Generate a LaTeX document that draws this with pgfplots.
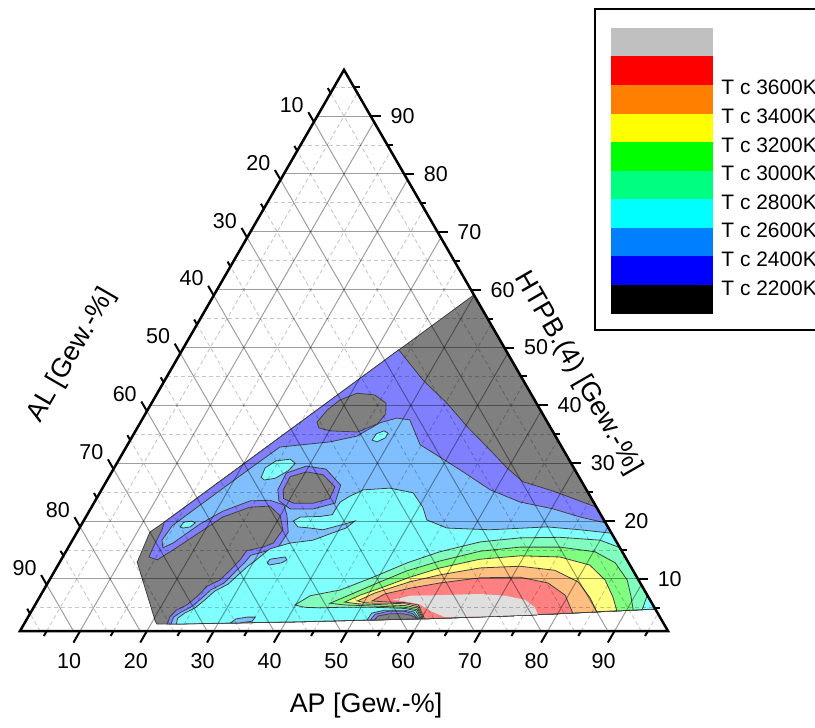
\documentclass[border=0pt]{standalone}
\usepackage{fontspec}
\setmainfont{Liberation Sans}
\usepackage{pgfplots}
\pgfplotsset{compat=1.18}

\definecolor{cBlue}{RGB}{0,0,255}
\definecolor{cAzure}{RGB}{0,128,255}
\definecolor{cCyan}{RGB}{0,255,255}
\definecolor{cSpring}{RGB}{0,255,128}
\definecolor{cGreen}{RGB}{0,255,0}
\definecolor{cYellow}{RGB}{255,255,0}
\definecolor{cOrange}{RGB}{255,128,0}
\definecolor{cRed}{RGB}{255,0,0}
\definecolor{cGray}{RGB}{192,192,192}

% AP and HTPB in Gew.-%, each component runs from 1 to 98 on the triangle
\pgfplotsset{
  table/tern/.style={row sep=\\,
    x expr=\thisrow{AP}+0.5*\thisrow{HT}-1.5,
    y expr=0.8660254*(\thisrow{HT}-1)},
  lev/.style={draw=black!75, line width=0.4bp, fill=#1!50},
}
\tikzset{
  gmaj/.style={draw=black, draw opacity=0.38, line width=0.5bp},
  gmin/.style={draw=black, draw opacity=0.22, line width=0.45bp, dash pattern=on 2bp off 1.5bp},
  tk/.style={line width=1bp},
  tl/.style={font=\fontsize{10.8}{12}\selectfont, inner sep=0pt},
  al/.style={font=\fontsize{13.5}{15}\selectfont, inner sep=0pt},
  lg/.style={font=\fontsize{10.5}{12}\selectfont, inner sep=0pt, anchor=west},
}

\begin{document}
\begin{tikzpicture}
\begin{axis}[name=ax, hide axis, clip=false, no markers,
  x=3.34bp, y=3.34bp,
  xmin=-2.994, xmax=119.01, ymin=-14.371, ymax=94.461]

% T < 2200 K (whole data region)
\addplot[lev=black] table[tern]{AP HT\\ 39.9 59.1\\ 94.2 4.8\\ 74.5 3.7\\ 58.8 3.1\\ 42.1 2.6\\ 20.9 2.2\\ 20.4 2.7\\ 12.6 12.9\\ 11.9 18.1\\ 13.1 19.7\\} -- cycle;
% T > 2200 K
\addplot[lev=cBlue] table[tern]{AP HT\\ 33.4 49.6\\ 39.6 44.4\\ 45.2 40.4\\ 50.3 36.3\\ 55.7 32.3\\ 59.8 29.2\\ 63.4 26.8\\ 68.7 25.2\\ 76.6 22.4\\ 94.2 4.8\\ 74.5 3.7\\ 58.8 3.1\\ 42.1 2.6\\ 22.4 2.2\\ 22.2 3.5\\ 22.6 4.6\\ 23.7 5.5\\ 24.5 6.9\\ 25.1 8.7\\ 26.5 9.8\\ 27.2 11.5\\ 27.8 13.3\\ 28.0 14.9\\ 30.1 15.5\\ 31.3 16.2\\ 31.6 18.5\\ 30.0 20.9\\ 27.6 22.6\\ 24.7 22.4\\ 21.5 20.7\\ 16.9 15.0\\ 15.4 13.3\\ 13.9 13.8\\ 13.7 15.6\\ 13.5 18.5\\ 13.2 19.8\\} -- cycle;
\addplot[lev=black] table[tern]{AP HT\\ 27.4 37.1\\ 27.9 39.2\\ 28.9 40.9\\ 30.9 42.1\\ 33.7 41.8\\ 36.1 40.4\\ 37.0 38.5\\ 36.6 36.8\\ 34.3 35.4\\ 30.1 35.6\\ 28.2 36.1\\} -- cycle;
% T > 2400 K
\addplot[lev=cAzure] table[tern]{AP HT\\ 14.4 16.7\\ 14.7 19.2\\ 17.1 22.8\\ 20.5 27.8\\ 24.0 32.8\\ 31.1 33.7\\ 34.6 34.7\\ 36.9 37.0\\ 39.0 37.8\\ 41.1 37.5\\ 42.9 35.4\\ 44.8 33.2\\ 48.2 31.4\\ 53.6 28.5\\ 59.2 25.4\\ 64.7 23.3\\ 70.3 22.1\\ 75.0 20.7\\ 79.3 19.7\\ 94.2 4.8\\ 74.5 3.7\\ 58.8 3.1\\ 42.1 2.6\\ 23.0 2.2\\ 22.8 3.4\\ 23.5 4.3\\ 24.5 5.1\\ 25.3 6.5\\ 26.0 8.1\\ 27.4 9.3\\ 28.0 11.0\\ 28.7 12.8\\ 29.0 14.1\\ 30.9 14.8\\ 32.4 15.5\\ 32.6 18.1\\ 30.9 21.1\\ 29.6 22.8\\ 27.1 23.6\\ 24.2 23.5\\ 21.0 21.7\\ 18.7 19.5\\ 16.3 16.2\\ 15.2 15.4\\} -- cycle;
\addplot[lev=cBlue] table[tern]{AP HT\\ 27.4 25.4\\ 27.2 28.3\\ 29.6 29.5\\ 32.8 29.0\\ 36.4 26.2\\ 37.1 23.1\\ 34.3 22.1\\ 30.9 22.1\\ 28.5 23.5\\} -- cycle;
\addplot[lev=black] table[tern]{AP HT\\ 28.2 25.4\\ 28.1 27.7\\ 30.2 28.5\\ 32.9 28.0\\ 35.7 25.9\\ 35.9 23.9\\ 33.9 23.1\\ 30.9 23.1\\ 29.0 23.9\\} -- cycle;
% T > 2600 K
\addplot[lev=cCyan] table[tern]{AP HT\\ 16.0 19.0\\ 16.1 19.8\\ 17.2 20.0\\ 17.9 19.7\\ 17.5 19.0\\ 16.5 18.8\\} -- cycle;
\addplot[lev=cCyan] table[tern]{AP HT\\ 23.8 27.6\\ 23.6 29.2\\ 24.6 30.4\\ 26.6 30.7\\ 27.7 30.0\\ 27.3 28.7\\ 26.0 27.4\\ 24.5 27.1\\} -- cycle;
\addplot[lev=cCyan] table[tern]{AP HT\\ 37.2 34.0\\ 37.3 35.1\\ 38.2 35.6\\ 39.0 35.2\\ 39.0 34.4\\ 38.1 33.7\\} -- cycle;
\addplot[lev=cCyan] table[tern]{AP HT\\ 23.8 2.2\\ 23.5 3.2\\ 24.1 4.1\\ 25.2 5.0\\ 26.0 6.4\\ 26.7 7.9\\ 28.1 9.1\\ 28.8 10.7\\ 29.5 12.2\\ 30.1 13.1\\ 31.3 15.2\\ 33.8 16.2\\ 37.0 16.7\\ 39.0 17.8\\ 40.9 18.8\\ 41.6 20.0\\ 40.1 19.4\\ 37.6 18.5\\ 35.5 18.8\\ 33.6 19.0\\ 32.4 20.0\\ 33.1 20.7\\ 36.0 20.8\\ 37.7 21.1\\ 37.7 22.3\\ 37.8 23.3\\ 38.7 24.3\\ 40.2 25.4\\ 44.0 25.7\\ 47.9 24.9\\ 50.6 22.4\\ 52.3 20.2\\ 56.0 18.8\\ 62.6 18.5\\ 70.9 19.0\\ 76.1 18.5\\ 81.1 17.9\\ 94.2 4.8\\ 74.5 3.7\\ 58.8 3.1\\ 42.1 2.6\\} -- cycle;
\addplot[lev=cAzure] table[tern]{AP HT\\ 32.1 12.8\\ 32.2 13.4\\ 34.3 13.8\\ 34.8 13.3\\ 34.3 12.8\\ 32.6 12.4\\} -- cycle;
\addplot[lev=cAzure] table[tern]{AP HT\\ 31.8 2.4\\ 32.3 3.1\\ 33.8 3.4\\ 35.0 3.4\\ 34.9 2.7\\ 33.2 2.4\\} -- cycle;
% cold pocket at the lower edge
\addplot[lev=cAzure] table[tern]{AP HT\\ 52.0 2.9\\ 52.1 4.1\\ 53.8 4.6\\ 56.8 4.6\\ 58.3 4.3\\ 59.7 3.1\\} -- cycle;
\addplot[lev=cBlue] table[tern]{AP HT\\ 52.5 2.9\\ 52.7 3.9\\ 54.4 4.4\\ 56.9 4.4\\ 58.3 4.0\\ 59.5 3.1\\} -- cycle;
\addplot[lev=black] table[tern]{AP HT\\ 53.1 2.9\\ 53.3 3.6\\ 54.9 4.0\\ 56.8 4.0\\ 58.2 3.7\\ 59.4 3.1\\} -- cycle;
% T > 2800 ... 3600 K
\addplot[lev=cSpring] table[tern]{AP HT\\ 39.9 5.5\\ 41.4 7.1\\ 45.4 8.1\\ 49.2 10.3\\ 53.1 12.8\\ 57.0 14.7\\ 62.2 16.4\\ 67.8 17.1\\ 73.7 17.2\\ 80.0 16.7\\ 83.6 15.4\\ 91.8 7.2\\ 92.3 4.7\\ 74.5 3.7\\ 59.9 3.1\\ 58.5 4.5\\ 56.7 4.9\\ 54.4 5.0\\ 52.1 5.1\\ 49.9 5.1\\ 46.9 5.1\\ 43.9 5.0\\ 41.6 5.1\\} -- cycle;
\addplot[lev=cGreen] table[tern]{AP HT\\ 45.0 5.8\\ 46.7 6.9\\ 49.9 9.0\\ 53.7 11.4\\ 57.8 13.1\\ 63.0 14.8\\ 68.6 15.5\\ 74.6 15.5\\ 80.2 14.7\\ 84.2 12.8\\ 87.5 9.8\\ 89.4 7.1\\ 91.0 4.6\\ 74.5 3.7\\ 60.0 3.1\\ 58.6 4.7\\ 56.6 5.1\\ 54.3 5.2\\ 52.0 5.3\\ 50.0 5.4\\ 47.4 5.5\\} -- cycle;
\addplot[lev=cYellow] table[tern]{AP HT\\ 47.1 6.0\\ 48.8 7.2\\ 51.2 8.4\\ 54.7 10.3\\ 58.4 11.9\\ 63.6 13.4\\ 69.4 14.0\\ 75.4 13.8\\ 80.6 12.4\\ 84.2 9.8\\ 86.8 6.9\\ 88.6 4.5\\ 74.5 3.7\\ 60.2 3.1\\ 58.5 5.0\\ 56.4 5.4\\ 54.1 5.5\\ 51.9 5.6\\ 49.3 5.7\\} -- cycle;
\addplot[lev=cOrange] table[tern]{AP HT\\ 48.9 6.2\\ 50.9 7.6\\ 55.1 9.5\\ 59.0 10.7\\ 64.4 11.9\\ 70.2 12.2\\ 75.8 11.5\\ 80.3 9.5\\ 83.5 6.7\\ 85.7 4.3\\ 74.5 3.7\\ 60.3 3.1\\ 58.5 5.2\\ 56.3 5.7\\ 54.0 5.8\\ 51.7 5.8\\ 50.2 5.9\\} -- cycle;
\addplot[lev=cRed] table[tern]{AP HT\\ 51.1 6.2\\ 52.4 7.4\\ 55.7 8.4\\ 59.7 9.3\\ 65.3 10.2\\ 71.2 10.3\\ 75.9 9.3\\ 79.5 7.2\\ 82.2 4.1\\ 74.5 3.7\\ 60.5 3.1\\ 58.4 5.5\\ 56.2 5.9\\ 53.9 6.0\\ 52.3 6.1\\} -- cycle;
\addplot[fill=cGray!50, draw=none] table[tern]{AP HT\\ 54.1 6.4\\ 56.4 7.1\\ 60.8 7.2\\ 66.7 7.4\\ 70.6 7.1\\ 73.9 6.4\\ 76.0 5.1\\ 77.1 3.85\\ 68.6 3.5\\ 63.4 3.4\\ 60.6 4.5\\ 58.6 5.6\\ 56.1 6.1\\} -- cycle;

% grid
\pgfplotsinvokeforeach{5,15,...,95}{
  \draw[gmin] (axis cs:{0.5*#1-0.5},{0.8660254*(#1-1)}) -- (axis cs:{97.5-0.5*#1},{0.8660254*(#1-1)});
  \draw[gmin] (axis cs:{#1-1},0) -- (axis cs:{0.5*#1+48},{0.8660254*(98-#1)});
  \draw[gmin] (axis cs:{98-#1},0) -- (axis cs:{49-0.5*#1},{0.8660254*(98-#1)});
}
\pgfplotsinvokeforeach{10,20,...,90}{
  \draw[gmaj] (axis cs:{0.5*#1-0.5},{0.8660254*(#1-1)}) -- (axis cs:{97.5-0.5*#1},{0.8660254*(#1-1)});
  \draw[gmaj] (axis cs:{#1-1},0) -- (axis cs:{0.5*#1+48},{0.8660254*(98-#1)});
  \draw[gmaj] (axis cs:{98-#1},0) -- (axis cs:{49-0.5*#1},{0.8660254*(98-#1)});
}

% ticks and tick labels
\pgfplotsinvokeforeach{5,15,...,95}{
  \draw[tk] (axis cs:{#1-1},0) -- (axis cs:{#1-1.43},-0.74);
  \draw[tk] (axis cs:{49-0.5*#1},{0.8660254*(98-#1)}) -- (axis cs:{48.57-0.5*#1},{0.8660254*(98-#1)+0.74});
  \draw[tk] (axis cs:{97.5-0.5*#1},{0.8660254*(#1-1)}) -- (axis cs:{98.35-0.5*#1},{0.8660254*(#1-1)});
}
\pgfplotsinvokeforeach{10,20,...,90}{
  \draw[tk] (axis cs:{#1-1},0) -- (axis cs:{#1-2},-1.732);
  \draw[tk] (axis cs:{49-0.5*#1},{0.8660254*(98-#1)}) -- (axis cs:{48.16-0.5*#1},{0.8660254*(98-#1)+1.45});
  \draw[tk] (axis cs:{97.5-0.5*#1},{0.8660254*(#1-1)}) -- (axis cs:{99.0-0.5*#1},{0.8660254*(#1-1)});
  \node[tl] at (axis cs:{#1-2.65},-4.49) {#1};
  \node[tl] at (axis cs:{45.68-0.5*#1},{0.8660254*(98-#1)+2.54}) {#1};
  \node[tl] at (axis cs:{102.26-0.5*#1},{0.8660254*(#1-1)}) {#1};
}
\draw[line width=1.25bp, line join=miter] (axis cs:0,0) -- (axis cs:97,0) -- (axis cs:48.5,84.004) -- cycle;

\node[al] at (axis cs:51.8,-11.23) {AP [Gew.-\%]};
\node[al, rotate=60] at (axis cs:7.78,41.3) {AL [Gew.-\%]};
\node[al, rotate=-60] at (axis cs:83.53,38.62) {HTPB.(4) [Gew.-\%]};

% legend
\draw[line width=0.75bp, fill=white] (axis cs:86.08,45.06) rectangle (axis cs:125,93.11);
\fill[cGray]   (axis cs:88.47,90.31) rectangle (axis cs:103.74,86.03);
\fill[cRed]    (axis cs:88.47,86.03) rectangle (axis cs:103.74,81.75);
\fill[cOrange] (axis cs:88.47,81.75) rectangle (axis cs:103.74,77.47);
\fill[cYellow] (axis cs:88.47,77.47) rectangle (axis cs:103.74,73.19);
\fill[cGreen]  (axis cs:88.47,73.19) rectangle (axis cs:103.74,68.91);
\fill[cSpring] (axis cs:88.47,68.91) rectangle (axis cs:103.74,64.63);
\fill[cCyan]   (axis cs:88.47,64.63) rectangle (axis cs:103.74,60.35);
\fill[cAzure]  (axis cs:88.47,60.35) rectangle (axis cs:103.74,56.07);
\fill[cBlue]   (axis cs:88.47,56.07) rectangle (axis cs:103.74,51.79);
\fill[black]   (axis cs:88.47,51.79) rectangle (axis cs:103.74,47.51);
\node[lg] at (axis cs:104.94,81.33) {T c 3600K};
\node[lg] at (axis cs:104.94,77.05) {T c 3400K};
\node[lg] at (axis cs:104.94,72.77) {T c 3200K};
\node[lg] at (axis cs:104.94,68.49) {T c 3000K};
\node[lg] at (axis cs:104.94,64.21) {T c 2800K};
\node[lg] at (axis cs:104.94,59.93) {T c 2600K};
\node[lg] at (axis cs:104.94,55.65) {T c 2400K};
\node[lg] at (axis cs:104.94,51.37) {T c 2200K};
\end{axis}
\pgfresetboundingbox
\path[use as bounding box] (ax.south west) rectangle (ax.north east);
\end{tikzpicture}
\end{document}
